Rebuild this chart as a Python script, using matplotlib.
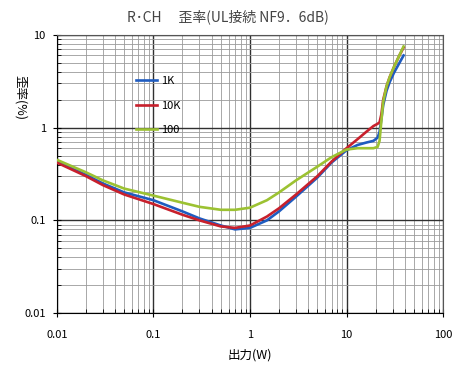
import matplotlib
matplotlib.use("Agg")
import matplotlib.pyplot as plt
from matplotlib.ticker import LogLocator, FixedLocator, NullFormatter
import numpy as np

plt.rcParams['font.family'] = ['Noto Sans CJK JP', 'DejaVu Sans']

# 出力 (W)
x_w = [0.01, 0.02, 0.03, 0.05, 0.1, 0.2, 0.3, 0.5, 0.7, 1, 1.5, 2, 3, 5, 7,
       10, 13, 16, 19, 21, 22, 23, 24, 26, 28, 31, 35, 39]

# 歪率 (%)
dist_1k = [0.43, 0.31, 0.25, 0.2, 0.165, 0.125, 0.105, 0.088, 0.08, 0.083, 0.1,
           0.125, 0.18, 0.29, 0.42, 0.57, 0.65, 0.69, 0.72, 0.78, 0.9, 1.25,
           1.75, 2.5, 3.1, 3.9, 4.9, 6.0]
dist_10k = [0.42, 0.3, 0.24, 0.19, 0.15, 0.115, 0.1, 0.086, 0.083, 0.088, 0.11,
            0.135, 0.19, 0.3, 0.43, 0.6, 0.75, 0.9, 1.04, 1.1, 1.14, 1.4,
            2.0, 2.8, 3.5, 4.5, 5.9, 7.3]
dist_100 = [0.45, 0.33, 0.27, 0.22, 0.185, 0.155, 0.14, 0.13, 0.13, 0.137, 0.165,
            0.2, 0.27, 0.38, 0.48, 0.58, 0.6, 0.6, 0.6, 0.62, 0.72, 1.2,
            1.9, 2.8, 3.5, 4.5, 5.9, 7.5]

fig = plt.figure(figsize=(4.62, 3.75), dpi=100)
ax = fig.add_axes([0.123, 0.165, 0.836, 0.742])

ax.plot(x_w, dist_1k, color='#1f5cc0', lw=1.9, label='1K', zorder=3)
ax.plot(x_w, dist_10k, color='#c8202c', lw=1.9, label='10K', zorder=4)
ax.plot(x_w, dist_100, color='#9cc232', lw=1.9, label='100', zorder=5)

ax.set_xscale('log')
ax.set_yscale('log')
ax.set_xlim(0.01, 100)
ax.set_ylim(0.01, 10)

ax.xaxis.set_major_locator(FixedLocator([0.01, 0.1, 1, 10, 100]))
ax.yaxis.set_major_locator(FixedLocator([0.01, 0.1, 1, 10]))
ax.set_xticklabels(['0.01', '0.1', '1', '10', '100'])
ax.set_yticklabels(['0.01', '0.1', '1', '10'])
ax.xaxis.set_minor_locator(LogLocator(base=10, subs=np.arange(2, 10)))
ax.yaxis.set_minor_locator(LogLocator(base=10, subs=np.arange(2, 10)))
ax.xaxis.set_minor_formatter(NullFormatter())
ax.yaxis.set_minor_formatter(NullFormatter())

ax.grid(which='major', color='#303030', lw=1.0)
ax.grid(which='minor', color='#9a9a9a', lw=0.6)
ax.tick_params(which='major', direction='inout', length=6, width=0.8,
               labelsize=8, color='black', pad=5)
ax.tick_params(which='minor', direction='in', length=3, width=0.6)
ax.tick_params(axis='x', pad=9)

for s in ['left', 'bottom']:
    ax.spines[s].set_color('black')
for s in ['top', 'right']:
    ax.spines[s].set_color('#555555')

leg = ax.legend(loc='upper left', bbox_to_anchor=(0.18, 0.887), frameon=False,
                fontsize=8, handlelength=1.9, handletextpad=0.3,
                labelspacing=1.3)

fig.text(0.494, 0.955, 'R･CH　 歪率(UL接続 NF9．6dB)', ha='center', va='center',
         fontsize=10, color='#444444')
fig.text(0.541, 0.052, '出力(W)', ha='center', va='center', fontsize=9)
fig.text(0.045, 0.74, '歪率(%)', ha='center', va='center', fontsize=9,
         rotation=270)

fig.savefig('out.png', dpi=100)
